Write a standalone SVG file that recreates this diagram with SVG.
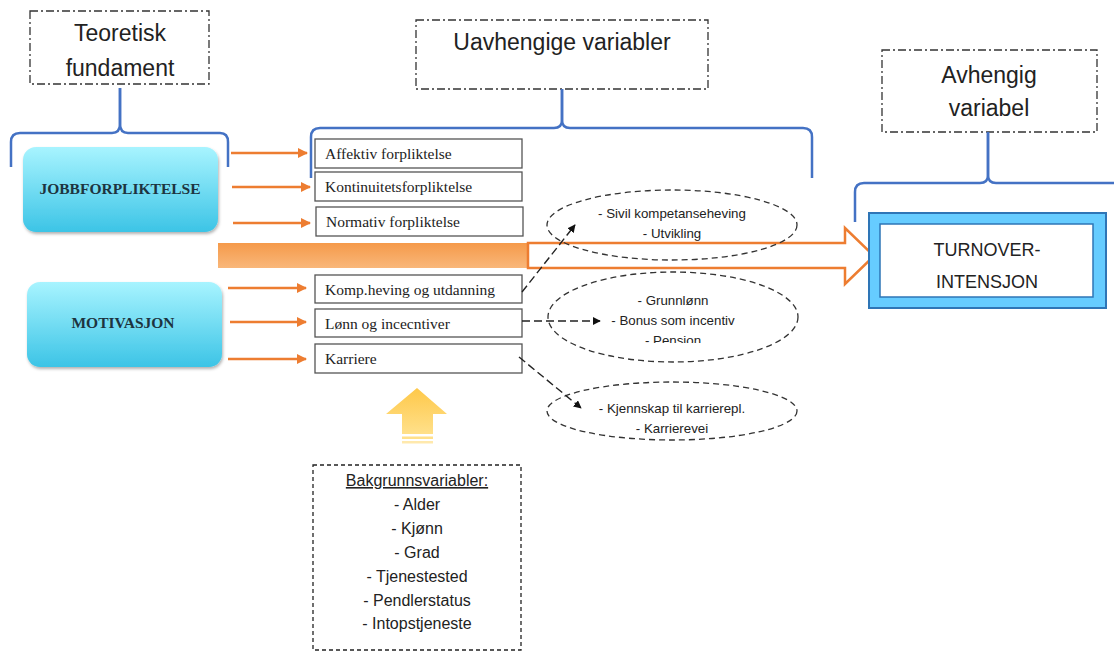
<svg xmlns="http://www.w3.org/2000/svg" width="1114" height="652" viewBox="0 0 1114 652">
<defs>
<style>
.title{fill:#fff;stroke:#333;stroke-width:1.3;stroke-dasharray:8 3 2 3}
.tt{font-family:"Liberation Sans",Arial,sans-serif;font-size:23px;fill:#222;text-anchor:middle}
.brace{fill:none;stroke:#4472C4;stroke-width:2.5;stroke-linejoin:round}
.vbox{fill:#fff;stroke:#555;stroke-width:1.3}
.vt{font-family:"Liberation Serif","Times New Roman",serif;font-size:15.5px;fill:#222}
.oa{stroke:#ED7D31;stroke-width:2.5;fill:none}
.dl{stroke:#222;stroke-width:1.4;stroke-dasharray:8 4;fill:none}
.el{fill:none;stroke:#333;stroke-width:1.3;stroke-dasharray:6 4}
.et{font-family:"Liberation Sans",Arial,sans-serif;font-size:13.3px;fill:#222;text-anchor:middle}
.bt{font-family:"Liberation Sans",Arial,sans-serif;font-size:16px;fill:#222;text-anchor:middle}
.rt{font-family:"Liberation Serif","Times New Roman",serif;font-size:15.5px;font-weight:bold;fill:#1d3440;text-anchor:middle}
</style>
<linearGradient id="cyan" x1="0" y1="0" x2="0" y2="1">
<stop offset="0" stop-color="#a8f4ff"/>
<stop offset="1" stop-color="#3cc4e6"/>
</linearGradient>
<linearGradient id="org" x1="0" y1="0" x2="0" y2="1">
<stop offset="0" stop-color="#f59a4a"/>
<stop offset="1" stop-color="#f9b77a"/>
</linearGradient>
<linearGradient id="yel" x1="0" y1="0" x2="0" y2="1">
<stop offset="0" stop-color="#fec849"/>
<stop offset="1" stop-color="#ffe08a"/>
</linearGradient>
<filter id="sh" x="-10%" y="-10%" width="125%" height="130%">
<feDropShadow dx="1" dy="2" stdDeviation="1.5" flood-color="#000" flood-opacity="0.3"/>
</filter>
<marker id="oh" viewBox="0 0 10 10" refX="9" refY="5" markerWidth="4" markerHeight="4" orient="auto">
<path d="M0,0 L10,5 L0,10 z" fill="#ED7D31"/>
</marker>
<marker id="bh" viewBox="0 0 10 10" refX="9" refY="5" markerWidth="8" markerHeight="8" markerUnits="userSpaceOnUse" orient="auto">
<path d="M0,0 L10,5 L0,10 z" fill="#111"/>
</marker>
<clipPath id="e2clip"><rect x="540" y="270" width="270" height="73"/></clipPath>
</defs>

<!-- Title boxes -->
<g id="teoretisk">
<rect class="title" x="30" y="11" width="179" height="73"/>
<text class="tt" x="120" y="41">Teoretisk</text>
<text class="tt" x="120" y="76">fundament</text>
</g>
<g id="uavhengige">
<rect class="title" x="416" y="20" width="292" height="69"/>
<text class="tt" x="562" y="50">Uavhengige variabler</text>
</g>
<g id="avhengig">
<rect class="title" x="882" y="50" width="215" height="82"/>
<text class="tt" x="989" y="83">Avhengig</text>
<text class="tt" x="989" y="116">variabel</text>
</g>

<!-- Braces -->
<g id="braces">
<path class="brace" d="M120,88 V124 Q120,133 112,133 H20 Q11,133 11,142 V167"/>
<path class="brace" d="M120,88 V124 Q120,133 128,133 H220 Q228,133 228,142 V167"/>
<path class="brace" d="M562,89 V120 Q562,128 554,128 H320 Q311,128 311,137 V178"/>
<path class="brace" d="M562,89 V120 Q562,128 570,128 H803 Q812,128 812,137 V178"/>
<path class="brace" d="M988,132 V175 Q988,183 980,183 H864 Q855,183 855,192 V222"/>
<path class="brace" d="M988,132 V175 Q988,183 996,183 H1116"/>
</g>

<!-- Theory nodes -->
<g id="jobbforpliktelse">
<rect x="23" y="147" width="195" height="85" rx="13" fill="url(#cyan)" filter="url(#sh)"/>
<text class="rt" x="120" y="194">JOBBFORPLIKTELSE</text>
</g>
<g id="motivasjon">
<rect x="27" y="282" width="195" height="85" rx="13" fill="url(#cyan)" filter="url(#sh)"/>
<text class="rt" x="123" y="328">MOTIVASJON</text>
</g>

<!-- Variable boxes -->
<g id="affektiv"><rect class="vbox" x="315" y="139" width="207" height="29"/><text class="vt" x="325" y="159">Affektiv forpliktelse</text></g>
<g id="kontinuitet"><rect class="vbox" x="315" y="172" width="207" height="29"/><text class="vt" x="325" y="192">Kontinuitetsforpliktelse</text></g>
<g id="normativ"><rect class="vbox" x="316" y="207" width="207" height="29"/><text class="vt" x="326" y="227">Normativ forpliktelse</text></g>
<g id="komp"><rect class="vbox" x="315" y="275" width="207" height="28"/><text class="vt" x="325" y="295">Komp.heving og utdanning</text></g>
<g id="lonn"><rect class="vbox" x="315" y="309" width="207" height="28"/><text class="vt" x="325" y="329">Lønn og incecntiver</text></g>
<g id="karriere"><rect class="vbox" x="315" y="344" width="207" height="29"/><text class="vt" x="325" y="364">Karriere</text></g>

<!-- Big arrow -->
<g id="hovedpil">
<rect x="218" y="243" width="311" height="25" fill="url(#org)"/>
<polygon points="528,243 845,243 845,228 874,256 845,284 845,268 528,268" fill="#fff" stroke="#ED7D31" stroke-width="2.5" stroke-linejoin="miter"/>
</g>

<!-- Ellipses -->
<g id="ellipse-komp">
<ellipse class="el" cx="672" cy="225" rx="125" ry="35"/>
<text class="et" x="672" y="218">- Sivil kompetanseheving</text>
<text class="et" x="672" y="238">- Utvikling</text>
</g>
<g id="ellipse-lonn">
<ellipse class="el" cx="673" cy="317" rx="125" ry="45"/>
<g clip-path="url(#e2clip)">
<text class="et" x="673" y="305">- Grunnlønn</text>
<text class="et" x="673" y="325">- Bonus som incentiv</text>
<text class="et" x="673" y="345">- Pensjon</text>
</g>
</g>
<g id="ellipse-karriere">
<ellipse class="el" cx="672" cy="411" rx="125" ry="29"/>
<text class="et" x="672" y="413">- Kjennskap til karrierepl.</text>
<text class="et" x="672" y="433">- Karrierevei</text>
</g>

<!-- Turnover -->
<g id="turnover">
<rect x="869" y="213" width="237" height="95" fill="#66ccff" stroke="#2e75b6" stroke-width="2"/>
<rect x="880" y="224" width="213" height="73" fill="#fff" stroke="#2e75b6" stroke-width="1.5"/>
<text class="bt" style="font-size:18px" x="987" y="256">TURNOVER-</text>
<text class="bt" style="font-size:18px" x="987" y="288">INTENSJON</text>
</g>

<!-- Background -->
<g id="bakgrunn-pil">
<polygon points="417,388 447,414 433,414 433,434 402,434 402,414 386,414" fill="url(#yel)"/>
<rect x="402" y="436.5" width="31" height="2.5" fill="#ffe08a"/>
<rect x="402" y="441" width="31" height="2.5" fill="#ffe9ad"/>
</g>
<g id="bakgrunnsvariabler">
<rect x="313" y="465" width="208" height="185" fill="#fff" stroke="#222" stroke-width="1.3" stroke-dasharray="4 3"/>
<text class="bt" x="417" y="486" text-decoration="underline">Bakgrunnsvariabler:</text>
<text class="bt" x="417" y="510">- Alder</text>
<text class="bt" x="417" y="534">- Kjønn</text>
<text class="bt" x="417" y="558">- Grad</text>
<text class="bt" x="417" y="582">- Tjenestested</text>
<text class="bt" x="417" y="606">- Pendlerstatus</text>
<text class="bt" x="417" y="629">- Intopstjeneste</text>
</g>

<!-- Connectors -->
<g id="connectors">
<line class="oa" x1="231" y1="153" x2="307" y2="153" marker-end="url(#oh)"/>
<line class="oa" x1="232" y1="187" x2="310" y2="187" marker-end="url(#oh)"/>
<line class="oa" x1="233" y1="223" x2="310" y2="223" marker-end="url(#oh)"/>
<line class="oa" x1="228" y1="288" x2="306" y2="288" marker-end="url(#oh)"/>
<line class="oa" x1="230" y1="322" x2="306" y2="322" marker-end="url(#oh)"/>
<line class="oa" x1="228" y1="359" x2="306" y2="359" marker-end="url(#oh)"/>
<line class="dl" x1="522" y1="292" x2="575" y2="225" marker-end="url(#bh)"/>
<line class="dl" x1="522" y1="321" x2="600" y2="321" marker-end="url(#bh)"/>
<line class="dl" x1="519" y1="357" x2="581" y2="408" marker-end="url(#bh)"/>
</g>
</svg>
